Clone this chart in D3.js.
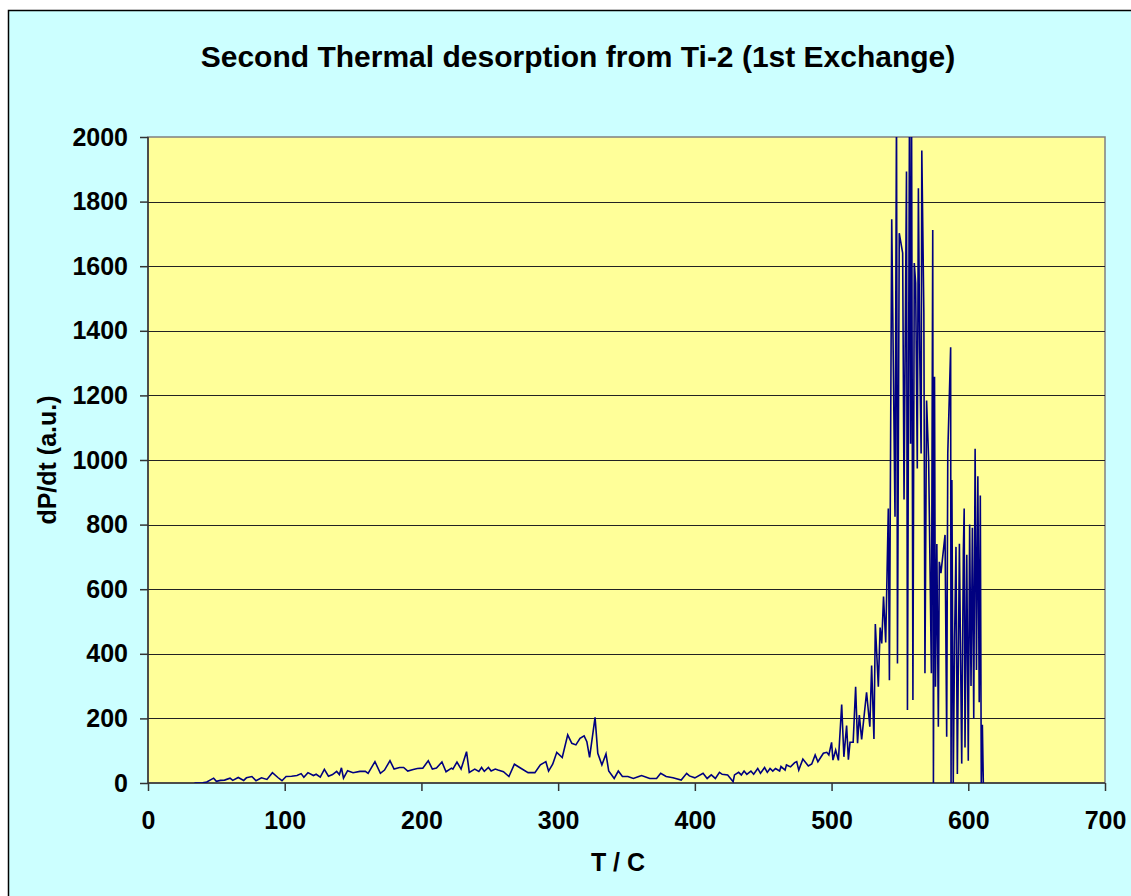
<!DOCTYPE html>
<html>
<head>
<meta charset="utf-8">
<script src="https://cdn.jsdelivr.net/npm/d3@7"></script>
<style>
  body { margin: 0; background: #fff; }
  text { font-family: Arial, "Liberation Sans", sans-serif; font-weight: bold; fill: #000; }
</style>
</head>
<body>
<div id="chart"></div>
<script>
// temperature (C) and desorption rate dP/dt (a.u.)
var temps = [
  34, 37, 40, 43, 48, 50, 53, 56, 60, 62, 66, 70, 72, 76, 79, 83, 87, 91, 95, 98,
  101, 105, 109, 112, 114, 117, 121, 123, 126, 129, 132, 135, 138, 140, 141.5, 143, 146, 150, 155, 159,
  161, 166, 170, 173, 177, 180, 184, 187, 190, 194, 197, 201, 205, 208, 211, 215, 218, 222, 223, 226,
  229, 233, 235, 239, 242, 244, 246, 249, 251, 254, 256, 260, 264, 268, 273, 278, 283, 287, 291, 293,
  296, 299, 303, 307, 310, 313, 316, 319, 321, 323, 327, 329, 332, 335, 337, 341, 344, 347, 351, 355,
  359, 361, 365, 367, 372, 375, 379, 384, 390, 394, 396, 400, 406, 409, 412, 415, 418, 420, 424, 428,
  429, 432, 434, 436, 438, 441, 443, 446, 448, 451, 453, 455, 457, 459, 462, 463, 466, 467, 470, 473,
  474.5, 476, 479, 483, 485.5, 488, 490, 494, 496.5, 498, 500, 501, 503, 505, 507.4, 509, 511, 512.3, 513.5, 515.8,
  517.6, 519, 520.3, 522, 525.6, 528, 529.3, 531, 532, 534.2, 535.5, 536.7, 538, 539.6, 541.5, 542.3, 544, 546.4, 547.5, 548.2,
  549.5, 552, 553, 554.8, 555.5, 557, 557.8, 558.5, 559.5, 560.5, 561.5, 562.7, 563.5, 564.5, 565.5, 566, 567.5, 568.3, 569.5, 571,
  573, 574, 574.5, 575.3, 576, 577, 578.1, 578.8, 580, 583, 584.2, 585, 587.1, 587.4, 588, 589, 590, 591, 592, 593.5,
  595.2, 596.4, 597, 597.6, 598.9, 600, 601, 602, 603, 604, 605, 606, 607, 608, 608.8, 609.5, 610.3, 611
];
var rates = [
  0, 0, 1, 3, 15, 5, 8, 9, 15, 8, 17, 8, 16, 20, 7, 16, 11, 32, 17, 7,
  20, 21, 23, 29, 18, 32, 23, 27, 18, 42, 21, 26, 36, 26, 47, 15, 38, 32, 36, 36,
  30, 66, 30, 40, 69, 43, 48, 48, 37, 42, 45, 46, 69, 43, 46, 65, 35, 46, 43, 65,
  43, 97, 33, 43, 36, 48, 36, 48, 37, 43, 40, 35, 20, 58, 45, 32, 32, 56, 66, 37,
  58, 95, 79, 149, 123, 118, 138, 146, 128, 79, 203, 92, 56, 90, 37, 14, 37, 20, 20, 14,
  20, 23, 17, 14, 14, 30, 20, 16, 9, 30, 22, 16, 30, 14, 25, 14, 33, 27, 25, 4,
  25, 33, 25, 37, 27, 37, 27, 45, 30, 48, 33, 45, 37, 45, 37, 51, 40, 56, 50, 63,
  66, 40, 74, 53, 59, 87, 66, 92, 95, 87, 126, 71, 102, 70, 243, 81, 178, 72, 126, 126,
  298, 123, 210, 135, 281, 174, 364, 136, 492, 298, 481, 432, 577, 435, 850, 318, 1745, 824, 2100, 370,
  1702, 1641, 878, 1893, 226, 2100, 1050, 2100, 257, 1610, 1548, 974, 1841, 1331, 1020, 1958, 1456, 340, 1184, 1000,
  340, 1712, 0, 1258, 298, 740, 174, 685, 650, 768, 143, 1021, 1349, 0, 938, 0, 450, 731, 28, 741,
  60, 720, 850, 110, 707, 69, 800, 300, 790, 200, 1035, 350, 950, 250, 890, 0, 180, 0
];
var xTicks = [0, 100, 200, 300, 400, 500, 600, 700];
var yTicks = [0, 200, 400, 600, 800, 1000, 1200, 1400, 1600, 1800, 2000];

var data = temps.map(function(t, i) { return {t: t, v: rates[i]}; });

var W = 1131, H = 896;
var margin = {top: 137, right: 26, bottom: 113, left: 148};
var width = W - margin.left - margin.right,
    height = H - margin.top - margin.bottom;

var svg = d3.select("#chart").append("svg")
    .attr("width", W)
    .attr("height", H);

// chart area
svg.append("rect")
    .attr("x", 8.5).attr("y", 10.5)
    .attr("width", W + 10).attr("height", H + 10)
    .attr("fill", "#ccffff")
    .attr("stroke", "#000")
    .attr("stroke-width", 1.5);

var g = svg.append("g")
    .attr("transform", "translate(" + margin.left + "," + margin.top + ")");

var x = d3.scaleLinear().domain([0, 700]).range([0, width]);
var y = d3.scaleLinear().domain([0, 2000]).range([height, 0]);

g.append("rect")
    .attr("width", width).attr("height", height)
    .attr("fill", "#ffff99")
    .attr("stroke", "#808080")
    .attr("stroke-width", 1.5);

// gridlines
g.selectAll(".grid")
    .data(yTicks.filter(function(d) { return d > 0 && d < 2000; }))
  .enter().append("line")
    .attr("class", "grid")
    .attr("x1", 0).attr("x2", width)
    .attr("y1", function(d) { return Math.round(y(d)) + 0.5; })
    .attr("y2", function(d) { return Math.round(y(d)) + 0.5; })
    .attr("stroke", "#222")
    .attr("stroke-width", 1);

var xAxis = d3.axisBottom(x).tickValues(xTicks).tickFormat(d3.format("d")).tickSize(8).tickPadding(20);
var yAxis = d3.axisLeft(y).tickValues(yTicks).tickFormat(d3.format("d")).tickSize(8).tickPadding(12);

var gx = g.append("g")
    .attr("transform", "translate(0," + height + ")")
    .call(xAxis);
var gy = g.append("g").call(yAxis);

[gx, gy].forEach(function(a) {
  a.select(".domain").attr("stroke", "#333").attr("stroke-width", 1.5);
  a.selectAll(".tick line").attr("stroke", "#333").attr("stroke-width", 1.5);
  a.selectAll(".tick text")
    .style("font-family", "Arial, 'Liberation Sans', sans-serif")
    .style("font-weight", "bold")
    .style("font-size", "25px")
    .attr("fill", "#000");
});
gx.select(".domain").attr("d", "M0,0H" + width);
gy.select(".domain").attr("d", "M0," + height + "V0");

g.append("defs").append("clipPath")
    .attr("id", "clip")
  .append("rect")
    .attr("width", width).attr("height", height);

var line = d3.line()
    .x(function(d) { return x(d.t); })
    .y(function(d) { return y(d.v); });

g.append("path")
    .datum(data)
    .attr("clip-path", "url(#clip)")
    .attr("fill", "none")
    .attr("stroke", "#000080")
    .attr("stroke-width", 1.6)
    .attr("stroke-linejoin", "miter")
    .attr("d", line);

// titles
svg.append("text")
    .attr("x", 578).attr("y", 67)
    .attr("text-anchor", "middle")
    .style("font-size", "30px")
    .text("Second Thermal desorption from Ti-2 (1st Exchange)");

svg.append("text")
    .attr("x", 618).attr("y", 871)
    .attr("text-anchor", "middle")
    .style("font-size", "25px")
    .text("T / C");

svg.append("text")
    .attr("transform", "translate(56,460) rotate(-90)")
    .attr("text-anchor", "middle")
    .style("font-size", "25px")
    .text("dP/dt (a.u.)");
</script>
</body>
</html>
